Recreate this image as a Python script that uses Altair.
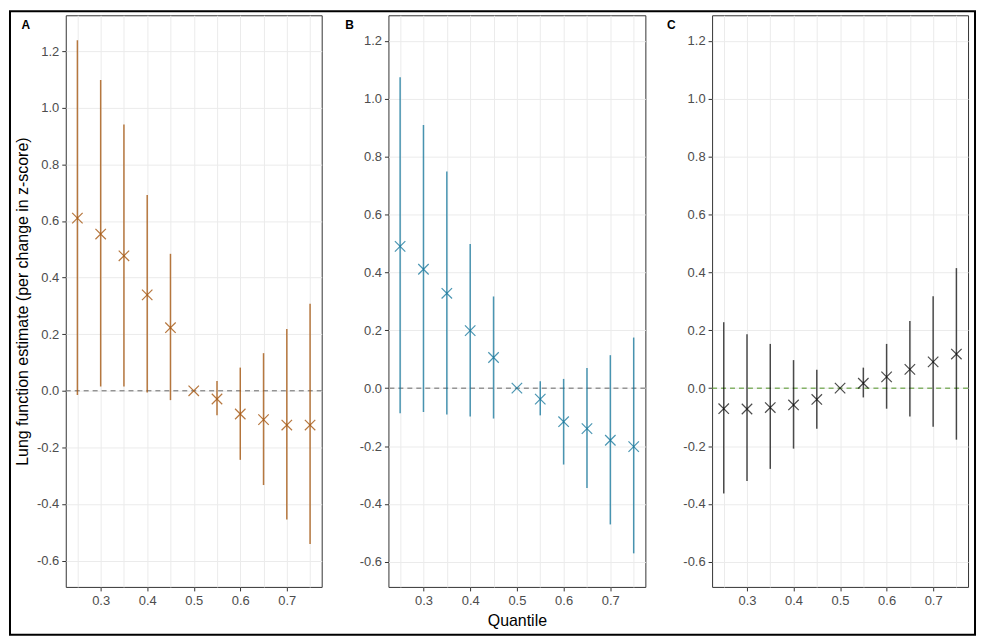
import altair as alt
import pandas as pd

# ---- data ----
quantile = [0.25, 0.30, 0.35, 0.40, 0.45, 0.50, 0.55, 0.60, 0.65, 0.70, 0.75]

est_a = [0.610, 0.554, 0.477, 0.339, 0.223, 0.0, -0.029, -0.082, -0.102, -0.121, -0.121]
lo_a = [-0.015, 0.015, 0.015, -0.006, -0.033, 0.0, -0.086, -0.244, -0.333, -0.455, -0.541]
hi_a = [1.239, 1.098, 0.941, 0.692, 0.484, 0.0, 0.035, 0.082, 0.133, 0.218, 0.308]

est_b = [0.490, 0.411, 0.328, 0.199, 0.106, 0.0, -0.038, -0.116, -0.140, -0.180, -0.202]
lo_b = [-0.087, -0.082, -0.091, -0.098, -0.105, 0.0, -0.094, -0.264, -0.345, -0.471, -0.571]
hi_b = [1.075, 0.910, 0.749, 0.498, 0.317, 0.0, 0.024, 0.032, 0.070, 0.114, 0.175]

est_c = [-0.071, -0.072, -0.067, -0.058, -0.039, 0.0, 0.017, 0.039, 0.065, 0.091, 0.118]
lo_c = [-0.364, -0.321, -0.279, -0.209, -0.140, 0.0, -0.032, -0.071, -0.098, -0.133, -0.178]
hi_c = [0.228, 0.186, 0.153, 0.097, 0.064, 0.0, 0.071, 0.153, 0.232, 0.318, 0.415]

panel_labels = ["A", "B", "C"]
y_title = "Lung function estimate (per change in z-score)"
x_title = "Quantile"

# grid / tick positions (major labelled, minor unlabelled)
x_grid = [0.25, 0.30, 0.35, 0.40, 0.45, 0.50, 0.55, 0.60, 0.65, 0.70, 0.75]
y_grid_a = [-0.6, -0.5, -0.4, -0.3, -0.2, -0.1, 0.0, 0.1, 0.2, 0.3, 0.4, 0.5, 0.6,
            0.7, 0.8, 0.9, 1.0, 1.1, 1.2, 1.3]
y_grid_bc = [-0.6, -0.5, -0.4, -0.3, -0.2, -0.1, 0.0, 0.1, 0.2, 0.3, 0.4, 0.5, 0.6,
             0.7, 0.8, 0.9, 1.0, 1.1, 1.2]

X_SHAPE = "M-1,-1L1,1M-1,1L1,-1"
FONT = "Liberation Sans"
TICK_COL = "#333333"
LABEL_COL = "#4D4D4D"

x_label_expr = "round(datum.value*100) % 10 == 0 ? format(datum.value, '.1f') : ''"
y_label_expr = ("round(datum.value*10) % 2 == 0 ? "
                "replace(format(datum.value, '.1f'), '\u2212', '-') : ''")
x_tick_col = {"condition": {"test": "round(datum.value*100) % 10 != 0", "value": "transparent"},
              "value": TICK_COL}
y_tick_col = {"condition": {"test": "round(datum.value*10) % 2 != 0", "value": "transparent"},
              "value": TICK_COL}


def panel(label, est, lo, hi, color, opacity, zero_color, y_domain, y_values,
          width, label_dx, show_y_title, show_x_title, frame):
    df = pd.DataFrame({"q": quantile, "est": est, "lo": lo, "hi": hi})

    x_axis_kw = dict(values=x_grid, labelExpr=x_label_expr, tickColor=x_tick_col,
                     labelOverlap=False, labelFlush=False, domain=False,
                     tickSize=4, labelPadding=4, labelFontSize=13, labelColor=LABEL_COL,
                     gridColor="#EBEBEB", titleFontSize=16, titleFontWeight="normal",
                     titleColor="#000000", titlePadding=5)
    if show_x_title:
        x_axis_kw["title"] = x_title
    else:
        x_axis_kw["title"] = None
    y_axis_kw = dict(values=y_values, labelExpr=y_label_expr, tickColor=y_tick_col,
                     labelOverlap=False, labelFlush=False, domain=False,
                     tickSize=4, labelPadding=3, labelFontSize=13, labelColor=LABEL_COL,
                     gridColor="#EBEBEB", titleFontSize=16, titleFontWeight="normal",
                     titleColor="#000000", titlePadding=6)
    if show_y_title:
        y_axis_kw["title"] = y_title
    else:
        y_axis_kw["title"] = None

    x_enc = alt.X("q:Q", scale=alt.Scale(domain=[0.225, 0.775], nice=False, zero=False),
                  axis=alt.Axis(**x_axis_kw))
    y_scale = alt.Scale(domain=y_domain, nice=False, zero=False)

    zero = alt.Chart(pd.DataFrame({"z": [0.0]})).mark_rule(
        color=zero_color, strokeDash=[5, 4], strokeWidth=1
    ).encode(y=alt.Y("z:Q", scale=y_scale, axis=alt.Axis(**y_axis_kw)))

    bars = alt.Chart(df).mark_rule(color=color, opacity=opacity, strokeWidth=1.5).encode(
        x=x_enc, y=alt.Y("lo:Q"), y2="hi:Q")

    pts = alt.Chart(df).mark_point(shape=X_SHAPE, size=110, strokeWidth=1.2,
                                   color=color, opacity=opacity).encode(
        x=x_enc, y=alt.Y("est:Q"))

    txt = alt.Chart(pd.DataFrame({"t": [label]})).mark_text(
        fontWeight="bold", fontSize=12, color="#000000", align="center", baseline="middle"
    ).encode(text="t:N", x=alt.value(label_dx), y=alt.value(10))

    layers = [zero, bars, pts, txt]
    if frame:
        border = alt.Chart(pd.DataFrame({"f": [0]})).mark_rect(
            fill="transparent", stroke="#000000", strokeWidth=2
        ).encode(x=alt.value(-56), x2=alt.value(913), y=alt.value(-4), y2=alt.value(622))
        layers.append(border)

    return alt.layer(*layers).properties(width=width, height=574)


pa = panel(panel_labels[0], est_a, lo_a, hi_a, "#A5560F", 0.8, "#666666",
           [-0.693, 1.327], y_grid_a, 257, -40, True, False, True)
pb = panel(panel_labels[1], est_b, lo_b, hi_b, "#0E7399", 0.75, "#666666",
           [-0.687, 1.289], y_grid_bc, 258, -39, False, True, False)
pc = panel(panel_labels[2], est_c, lo_c, hi_c, "#000000", 0.7, "#4D9221",
           [-0.687, 1.289], y_grid_bc, 257, -41, False, False, False)

chart = alt.hconcat(pa, pb, pc, spacing=67, bounds="flush").properties(
    padding=0, background="white"
).configure(font=FONT).configure_view(stroke="#333333", strokeWidth=1)

chart.save("out.html", embed_options={"renderer": "svg", "actions": False})
